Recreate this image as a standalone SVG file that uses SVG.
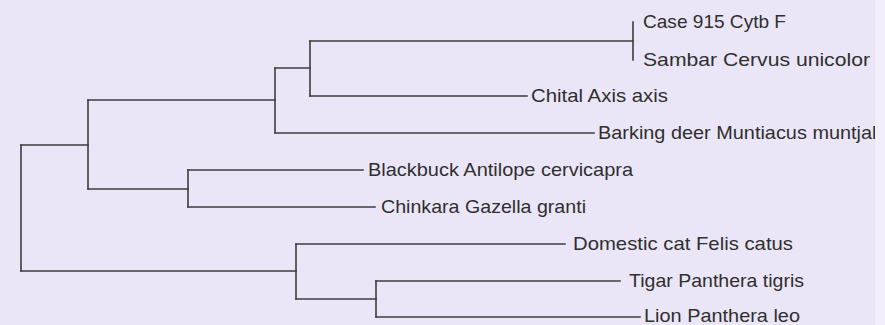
<svg xmlns="http://www.w3.org/2000/svg" width="885" height="325" viewBox="0 0 885 325">
  <defs>
    <style>
      .bg { fill: #EBE6F7; }
      .edge { fill: none; stroke: #3d3d3d; stroke-width: 1.6; stroke-linecap: square; }
      .bar { fill: none; stroke: #3d3d3d; stroke-width: 1.6; stroke-linecap: square; }
      .tip { font-family: "Liberation Sans", Arial, sans-serif; font-size: 19px; fill: #2f2f2f; }
    </style>
    <clipPath id="paper">
      <rect x="0" y="0" width="875" height="325"/>
    </clipPath>
  </defs>

  <rect class="bg" x="0" y="0" width="885" height="325"/>

  <g clip-path="url(#paper)">
    <!-- horizontal branches -->
    <g id="connectors">
      <path class="edge" d="M21 145H88"/>
      <path class="edge" d="M88 100H275"/>
      <path class="edge" d="M275 68H310"/>
      <path class="edge" d="M310 41H633"/>
      <path class="edge" d="M310 96H527"/>
      <path class="edge" d="M275 133H594"/>
      <path class="edge" d="M88 189H188"/>
      <path class="edge" d="M188 170H363"/>
      <path class="edge" d="M188 207H375"/>
      <path class="edge" d="M21 271H296"/>
      <path class="edge" d="M296 244H565"/>
      <path class="edge" d="M296 299H376"/>
      <path class="edge" d="M376 281H620"/>
      <path class="edge" d="M376 317H640"/>
    </g>

    <!-- internal nodes (vertical bars) -->
    <g id="node-root"><path class="bar" d="M21 145V271"/></g>
    <g id="node-ruminants"><path class="bar" d="M88 100V189"/></g>
    <g id="node-cervids"><path class="bar" d="M275 68V133"/></g>
    <g id="node-cervini"><path class="bar" d="M310 41V96"/></g>
    <g id="node-sambar-pair"><path class="bar" d="M633 22V60"/></g>
    <g id="node-bovids"><path class="bar" d="M188 170V207"/></g>
    <g id="node-felids"><path class="bar" d="M296 244V299"/></g>
    <g id="node-panthera"><path class="bar" d="M376 281V317"/></g>

    <!-- leaves -->
    <g id="leaf-case"><text class="tip" x="643" y="28" textLength="143" lengthAdjust="spacingAndGlyphs">Case 915 Cytb F</text></g>
    <g id="leaf-sambar"><text class="tip" x="643" y="66" textLength="227" lengthAdjust="spacingAndGlyphs">Sambar Cervus unicolor</text></g>
    <g id="leaf-chital"><text class="tip" x="531" y="102" textLength="137" lengthAdjust="spacingAndGlyphs">Chital Axis axis</text></g>
    <g id="leaf-barking"><text class="tip" x="598" y="139" textLength="284" lengthAdjust="spacingAndGlyphs">Barking deer Muntiacus muntjak</text></g>
    <g id="leaf-blackbuck"><text class="tip" x="368" y="176" textLength="265" lengthAdjust="spacingAndGlyphs">Blackbuck Antilope cervicapra</text></g>
    <g id="leaf-chinkara"><text class="tip" x="381" y="213" textLength="205" lengthAdjust="spacingAndGlyphs">Chinkara Gazella granti</text></g>
    <g id="leaf-cat"><text class="tip" x="573" y="250" textLength="220" lengthAdjust="spacingAndGlyphs">Domestic cat Felis catus</text></g>
    <g id="leaf-tiger"><text class="tip" x="629" y="287" textLength="175" lengthAdjust="spacingAndGlyphs">Tigar Panthera tigris</text></g>
    <g id="leaf-lion"><text class="tip" x="644" y="322" textLength="156" lengthAdjust="spacingAndGlyphs">Lion Panthera leo</text></g>
  </g>

  <!-- lighter margin strip on the right edge -->
  <rect x="875" y="0" width="10" height="325" fill="#F2EFFA"/>
</svg>
